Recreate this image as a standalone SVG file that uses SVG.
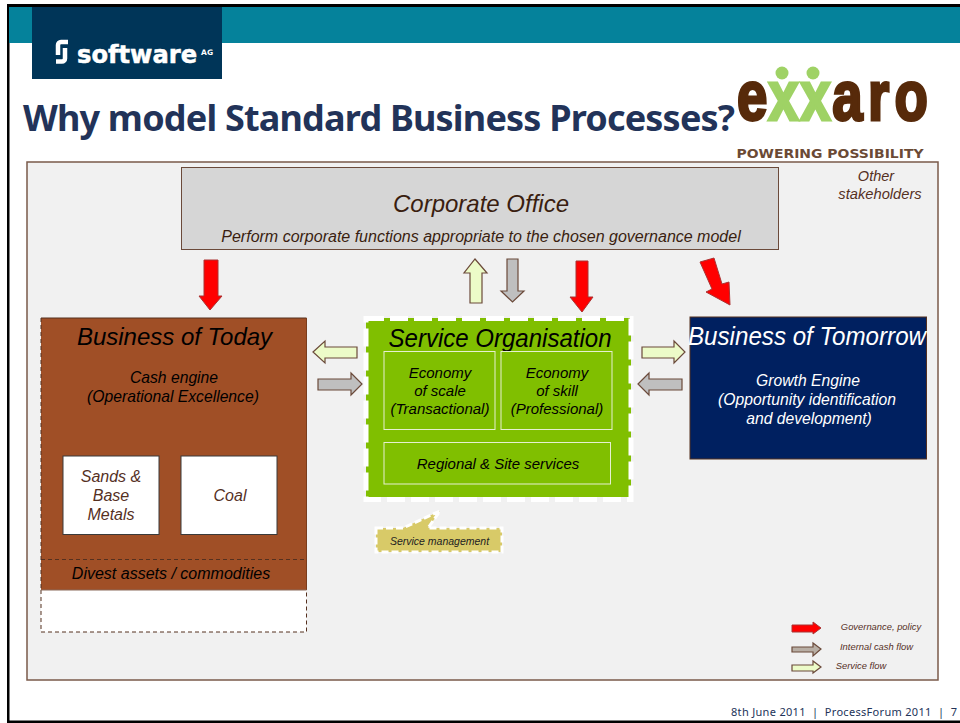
<svg xmlns="http://www.w3.org/2000/svg" width="960" height="723" viewBox="0 0 960 723">
<style>
text{font-family:"Liberation Sans",Arial,sans-serif;font-style:italic;text-anchor:middle}
.dk{fill:#000}.br{fill:#55301f}.w{fill:#fff}
.red{fill:#f00;stroke:#a33;stroke-width:1}
.gr{fill:#bfbfbf;stroke:#6b4a3a;stroke-width:1.2}
.pl{fill:#ecfbc8;stroke:#6b4a3a;stroke-width:1.2}
.tan{fill:#b8aea4;stroke:#6b4a3a;stroke-width:1.2}
.in{fill:none;stroke:#e6f0d0;stroke-width:1}
.wb{fill:#fff;stroke:#3a3a3a;stroke-width:1}
</style>
<rect width="960" height="723" fill="#fff"/>
<g id="frame">
<rect x="7" y="4" width="953" height="3" fill="#000"/>
<rect x="7" y="4" width="2.500" height="719" fill="#000"/>
<rect x="7" y="720.500" width="953" height="2.500" fill="#000"/>
<rect x="9" y="7" width="951" height="36" fill="#05829b"/>
</g>
<g id="software-ag-logo">
<rect x="32" y="7" width="190" height="72" fill="#003558"/>
<path d="M68 42H61a3 3 0 0 0-3 3V55M56 61.500H62a3 3 0 0 0 3-3V48" fill="none" stroke="#fff" stroke-width="4.500"/>
<text x="77" y="63" style="font-family:'DejaVu Sans',sans-serif;font-weight:700;font-style:normal;text-anchor:start" font-size="24.200" fill="#fff" stroke="#fff" stroke-width=".5">software<tspan font-size="7.500" stroke-width="0" dx="4" dy="-8">AG</tspan></text>
</g>
<g id="title">
<text x="23" y="131" style="font-family:'Noto Sans',sans-serif;font-weight:700;font-style:normal;text-anchor:start" font-size="36" fill="#223359" textLength="712" lengthAdjust="spacing">Why model Standard Business Processes?</text>
</g>
<g id="exxaro-logo">
<text transform="translate(737 120) scale(.78 1)" x="0 40 81 122 168 202" y="0" style="font-family:'Liberation Sans',sans-serif;font-weight:700;font-style:normal;text-anchor:start" font-size="70" fill="#572a0a" stroke="#572a0a" stroke-width="3">e<tspan fill="#9fd265" stroke="#9fd265">xx</tspan>aro</text>
<circle cx="782" cy="73" r="6.500" fill="#9fd265"/>
<circle cx="813" cy="73" r="6.500" fill="#9fd265"/>
<text x="830" y="158" style="font-family:'DejaVu Sans',sans-serif;font-weight:700;font-style:normal" font-size="12" fill="#6b4a35" textLength="187" lengthAdjust="spacingAndGlyphs">POWERING POSSIBILITY</text>
</g>
<g id="panel">
<rect x="27" y="162" width="911" height="518" fill="#f1f1f1" stroke="#7a5a4a" stroke-width="1.500"/>
<text x="876" y="181" font-size="14.500" class="br">Other</text>
<text x="880" y="199" font-size="14.700" class="br">stakeholders</text>
</g>
<g id="corporate-office">
<rect x="181.500" y="167.500" width="597" height="82" fill="#d6d6d6" stroke="#6b4a3a"/>
<text x="481" y="212" font-size="24" fill="#3a1e10">Corporate Office</text>
<text x="481" y="242" font-size="16" fill="#3a1e10">Perform corporate functions appropriate to the chosen governance model</text>
</g>
<g id="business-of-today">
<rect x="41" y="318" width="265.500" height="272" fill="#a04f26"/>
<path d="M306.500 318H41" fill="none" stroke="#55301f"/>
<path d="M41 318V590" fill="none" stroke="#55301f" stroke-dasharray="4 3"/>
<path d="M306.500 318V590" fill="none" stroke="#7a3c1c"/>
<rect x="41" y="590" width="265.500" height="42" fill="#fff"/>
<path d="M41 590V632H306.500V590" fill="none" stroke="#55301f" stroke-dasharray="4 3"/>
<path d="M41 559.500H306" fill="none" stroke="#55301f" stroke-dasharray="4 3"/>
<path d="M41 590H306.500" fill="none" stroke="#8a6a5a"/>
<text x="174.500" y="345" font-size="24" class="dk">Business of Today</text>
<text x="174" y="383" font-size="15.700" class="dk">Cash engine</text>
<text x="173" y="402" font-size="15.700" class="dk">(Operational Excellence)</text>
<text x="171" y="579" font-size="16" class="dk">Divest assets / commodities</text>
</g>
<g id="sands-base-metals">
<rect x="63" y="456" width="96" height="78.500" class="wb"/>
<text x="111" y="482" font-size="16" class="br">Sands &amp;</text>
<text x="111" y="501" font-size="16" class="br">Base</text>
<text x="111" y="520" font-size="16" class="br">Metals</text>
</g>
<g id="coal">
<rect x="181" y="456" width="96" height="78.500" class="wb"/>
<text x="230" y="501" font-size="16" class="br">Coal</text>
</g>
<g id="service-organisation">
<rect x="366" y="318" width="265" height="179" fill="#80bf00"/>
<rect x="366" y="318.500" width="265" height="181" fill="none" stroke="#fff" stroke-width="5" stroke-dasharray="18 6"/>
<text x="500" y="347" font-size="25" class="dk" textLength="223" lengthAdjust="spacingAndGlyphs">Service Organisation</text>
</g>
<g id="economy-of-scale">
<rect x="384" y="351.500" width="111" height="78" class="in"/>
<text x="440" y="378" font-size="15" class="dk">Economy</text>
<text x="440" y="396" font-size="15" class="dk">of scale</text>
<text x="440" y="414" font-size="15" class="dk">(Transactional)</text>
</g>
<g id="economy-of-skill">
<rect x="501" y="351.500" width="111" height="78" class="in"/>
<text x="557" y="378" font-size="15" class="dk">Economy</text>
<text x="557" y="396" font-size="15" class="dk">of skill</text>
<text x="557" y="414" font-size="15" class="dk">(Professional)</text>
</g>
<g id="regional-site-services">
<rect x="384" y="442.500" width="226.500" height="41.500" class="in"/>
<text x="498" y="469" font-size="15" class="dk">Regional &amp; Site services</text>
</g>
<g id="business-of-tomorrow">
<rect x="690" y="317" width="236.500" height="142" fill="#002060" stroke="#55301f"/>
<text x="807" y="345" font-size="25" class="w" textLength="238" lengthAdjust="spacingAndGlyphs">Business of Tomorrow</text>
<text x="808" y="386" font-size="15.700" class="w">Growth Engine</text>
<text x="807" y="405" font-size="15.700" class="w">(Opportunity identification</text>
<text x="809" y="424" font-size="15.700" class="w">and development)</text>
</g>
<g id="service-management">
<path d="M376 528H403L440 511L428 528H502V552H376Z" fill="#d8ca68" stroke="#fff" stroke-width="3" stroke-dasharray="7 3"/>
<text x="439.500" y="545" font-size="10.500" fill="#222">Service management</text>
</g>
<g id="connectors">
<polygon class="red" points="204,260 218,260 218,296 222,296 210,310 199,296 204,296"/>
<polygon class="red" points="700,262 714,258 722,284 729,282 730,305 706,292 712,289" />
<polygon class="pl" points="475,259 487,273 482,273 482,303 470,303 470,273 464,273"/>
<polygon class="gr" points="507,259 518,259 518,291 524,291 512.500,302 501,291 507,291"/>
<polygon class="red" points="576,261 588,261 588,297 593,297 582,312 570,297 576,297"/>
<polygon class="pl" points="313,352 325,341 325,347 357,347 357,358 325,358 325,363"/>
<polygon class="gr" points="318,379 351,379 351,373 362,384 351,395 351,390 318,390"/>
<polygon class="pl" points="642,347 674,347 674,341 685,352 674,363 674,358 642,358"/>
<polygon class="gr" points="638,384 649,373 649,379 682,379 682,390 649,390 649,395"/>
</g>
<g id="legend">
<polygon class="red" points="792,625 813,625 813,622 821,628 813,634 813,632 792,632"/>
<text x="881" y="630" font-size="9.400" class="br">Governance, policy</text>
<polygon class="tan" points="792,647 813,647 813,643 821,649 813,656 813,652 792,652"/>
<text x="876.500" y="650" font-size="9.400" class="br">Internal cash flow</text>
<polygon class="pl" points="792,665 813,665 813,661 821,667 813,673 813,671 792,671"/>
<text x="861" y="669" font-size="9.400" class="br">Service flow</text>
</g>
<g id="footer">
<text x="957" y="716" style="font-family:'Noto Sans',sans-serif;font-style:normal;text-anchor:end;white-space:pre" font-size="11" fill="#223359" textLength="226" lengthAdjust="spacing">8th June 2011  |  ProcessForum 2011  |  7</text>
</g>
</svg>
